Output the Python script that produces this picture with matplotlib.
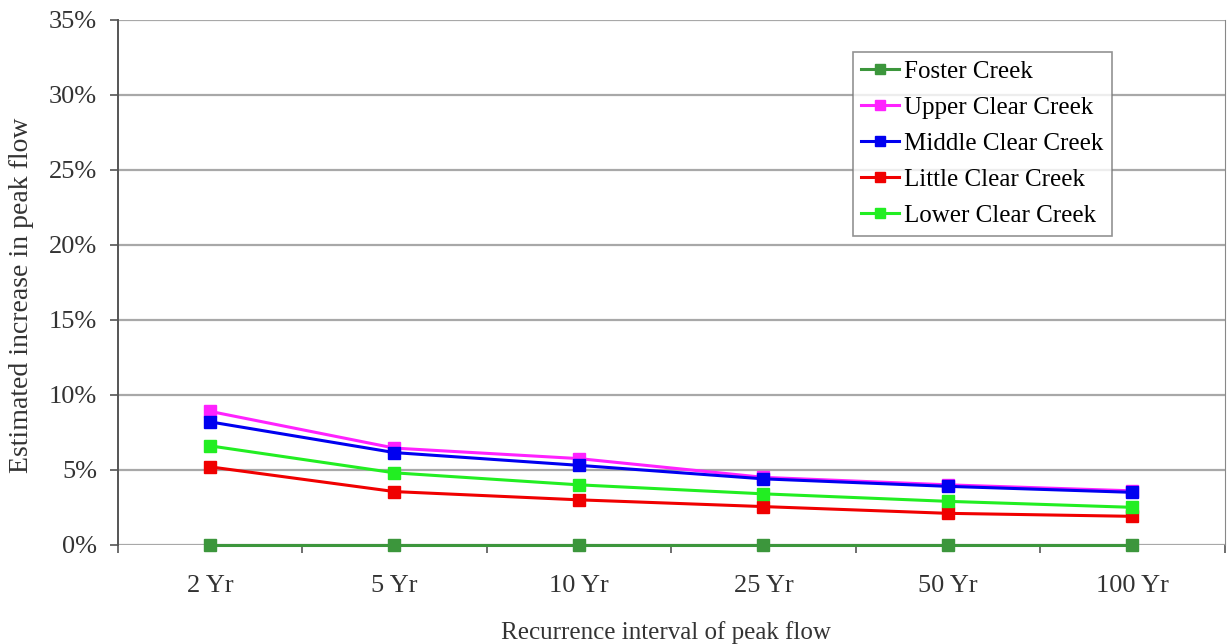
import numpy as np
import matplotlib
matplotlib.use("Agg")
import matplotlib.pyplot as plt
from matplotlib.ticker import FuncFormatter, FixedLocator

intervals = ["2 Yr", "5 Yr", "10 Yr", "25 Yr", "50 Yr", "100 Yr"]

foster = [0.0, 0.0, 0.0, 0.0, 0.0, 0.0]
upper_clear = [8.9, 6.45, 5.75, 4.5, 4.0, 3.6]
middle_clear = [8.2, 6.15, 5.3, 4.4, 3.9, 3.5]
little_clear = [5.2, 3.55, 3.0, 2.55, 2.1, 1.9]
lower_clear = [6.6, 4.8, 4.0, 3.4, 2.9, 2.5]

series = [
    ("Foster Creek", foster, "#3c963c"),
    ("Upper Clear Creek", upper_clear, "#ff22ff"),
    ("Middle Clear Creek", middle_clear, "#0000f0"),
    ("Little Clear Creek", little_clear, "#f00000"),
    ("Lower Clear Creek", lower_clear, "#22ee22"),
]

plt.rcParams["font.family"] = ["Liberation Serif", "DejaVu Serif"]

fig = plt.figure(figsize=(12.27, 6.44), dpi=100)
ax = fig.add_axes([0.096, 0.154, 0.902, 0.815])

x = np.arange(len(intervals))
for name, vals, col in series:
    ax.plot(x, vals, color=col, lw=2.2, marker="s", markersize=8.5, label=name,
            zorder=3, clip_on=False)

ax.set_xlim(-0.5, len(intervals) - 0.5)
ax.set_ylim(0, 35)
ax.set_yticks(np.arange(0, 36, 5))
ax.yaxis.set_major_formatter(FuncFormatter(lambda v, p: "%d%%" % v))
ax.grid(axis="y", color="#a8a8a8", lw=1.6)
ax.set_axisbelow(True)

ax.set_xticks(x)
ax.set_xticklabels(intervals)
ax.tick_params(axis="x", length=0, labelsize=19, pad=22, colors="#333333")
ax.xaxis.set_minor_locator(FixedLocator(np.arange(-0.5, len(intervals), 1)))
ax.tick_params(axis="x", which="minor", length=6, width=1.2, color="#555555")
ax.tick_params(axis="y", length=6, width=1.2, color="#555555", labelsize=19,
               labelcolor="#333333", pad=9)

ax.spines["top"].set_visible(False)
ax.spines["bottom"].set_visible(False)
ax.spines["left"].set_color("#555555")
ax.spines["left"].set_linewidth(1.4)
ax.spines["right"].set_color("#888888")

ax.set_xlabel("Recurrence interval of peak flow", fontsize=18, color="#333333")
ax.xaxis.set_label_coords(0.4955, -0.146)
ax.set_ylabel("Estimated increase in peak flow", fontsize=20, color="#333333")
ax.yaxis.set_label_coords(-0.0755, 0.476)

leg = ax.legend(loc="upper left", bbox_to_anchor=(0.664, 0.939), fontsize=18,
                frameon=True, fancybox=False, edgecolor="#777777",
                handlelength=1.5, handletextpad=0.2, labelspacing=0.54,
                borderpad=0.35, borderaxespad=0, markerscale=0.85)
leg.get_frame().set_linewidth(1.2)

fig.savefig("out.png", dpi=100)
